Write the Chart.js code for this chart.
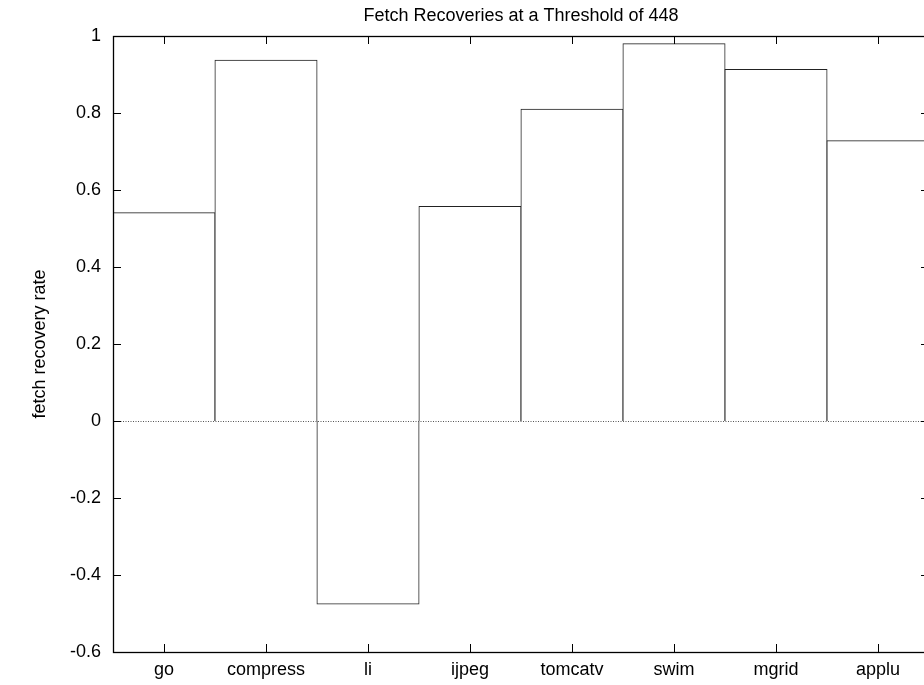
<!DOCTYPE html>
<html>
<head>
<meta charset="utf-8">
<script src="https://cdn.jsdelivr.net/npm/chart.js@4.4.1/dist/chart.umd.min.js"></script>
<style>
  html, body { margin: 0; padding: 0; background: #fff; overflow: hidden; }
  #wrap { width: 940px; height: 685px; }
  canvas { display: block; }
</style>
</head>
<body>
<div id="wrap"><canvas id="chart" width="940" height="685"></canvas></div>
<script>
// datos
const benchmarks = ['go', 'compress', 'li', 'ijpeg', 'tomcatv', 'swim', 'mgrid', 'applu'];
const recoveryRate = [0.541, 0.937, -0.475, 0.557, 0.810, 0.980, 0.913, 0.728];
const yTickValues = [-0.6, -0.4, -0.2, 0, 0.2, 0.4, 0.6, 0.8, 1];

const FONT = "'Liberation Sans', Arial, Helvetica, sans-serif";

/* Marco, marcas hacia adentro y línea punteada del cero, estilo gnuplot */
const gnuplotFrame = {
  id: 'gnuplotFrame',
  afterDatasetsDraw(chart) {
    const { ctx, chartArea: a, scales: { x, y } } = chart;
    const tick = 8;
    ctx.save();
    // línea del cero
    const y0 = Math.round(y.getPixelForValue(0)) + 0.5;
    ctx.strokeStyle = '#555';
    ctx.lineWidth = 1;
    ctx.setLineDash([1, 1.5]);
    ctx.beginPath();
    ctx.moveTo(a.left, y0);
    ctx.lineTo(a.right, y0);
    ctx.stroke();
    ctx.setLineDash([]);

    ctx.strokeStyle = '#000';
    ctx.lineWidth = 1;
    ctx.beginPath();
    y.ticks.forEach(t => {
      const py = Math.round(y.getPixelForValue(t.value)) + 0.5;
      ctx.moveTo(a.left, py); ctx.lineTo(a.left + tick, py);
      ctx.moveTo(a.right, py); ctx.lineTo(a.right - tick, py);
    });
    x.ticks.forEach((t, i) => {
      const px = Math.round(x.getPixelForTick(i)) + 0.5;
      ctx.moveTo(px, a.bottom); ctx.lineTo(px, a.bottom - tick);
      ctx.moveTo(px, a.top); ctx.lineTo(px, a.top + tick);
    });
    ctx.stroke();

    ctx.lineWidth = 1.3;
    ctx.strokeRect(Math.round(a.left) + 0.5, Math.round(a.top) + 0.5,
      Math.round(a.right - a.left), Math.round(a.bottom - a.top));
    ctx.restore();
  }
};

new Chart(document.getElementById('chart'), {
  type: 'bar',
  data: {
    labels: benchmarks,
    datasets: [{
      label: 'fetch recovery rate',
      data: recoveryRate,
      backgroundColor: '#fff',
      borderColor: '#222',
      borderWidth: 1,
      inflateAmount: 0.5,
      barPercentage: 1,
      categoryPercentage: 1
    }]
  },
  options: {
    responsive: false,
    animation: false,
    devicePixelRatio: 1,
    layout: { padding: { left: 0, right: 11, top: 0, bottom: 0 } },
    scales: {
      x: {
        grid: { display: false, drawTicks: false },
        border: { display: false },
        ticks: { color: '#000', padding: 7, font: { family: FONT, size: 18 } },
        afterFit(scale) { scale.height = 33; }
      },
      y: {
        min: -0.6,
        max: 1,
        afterBuildTicks(scale) { scale.ticks = yTickValues.map(v => ({ value: v })); },
        grid: { display: false, drawTicks: false },
        border: { display: false },
        ticks: {
          color: '#000',
          padding: 12,
          font: { family: FONT, size: 18 },
          callback: v => String(Math.round(v * 10) / 10)
        },
        title: {
          display: true,
          text: 'fetch recovery rate',
          color: '#000',
          font: { family: FONT, size: 18 },
          padding: { top: 29, bottom: 0 }
        },
        afterFit(scale) { scale.width = 113; }
      }
    },
    plugins: {
      legend: { display: false },
      tooltip: { enabled: false },
      title: {
        display: true,
        text: 'Fetch Recoveries at a Threshold of 448',
        fullSize: false,
        color: '#000',
        font: { family: FONT, size: 18, weight: 'normal' },
        padding: { top: 5, bottom: 9.4 }
      }
    }
  },
  plugins: [gnuplotFrame]
});
</script>
</body>
</html>
